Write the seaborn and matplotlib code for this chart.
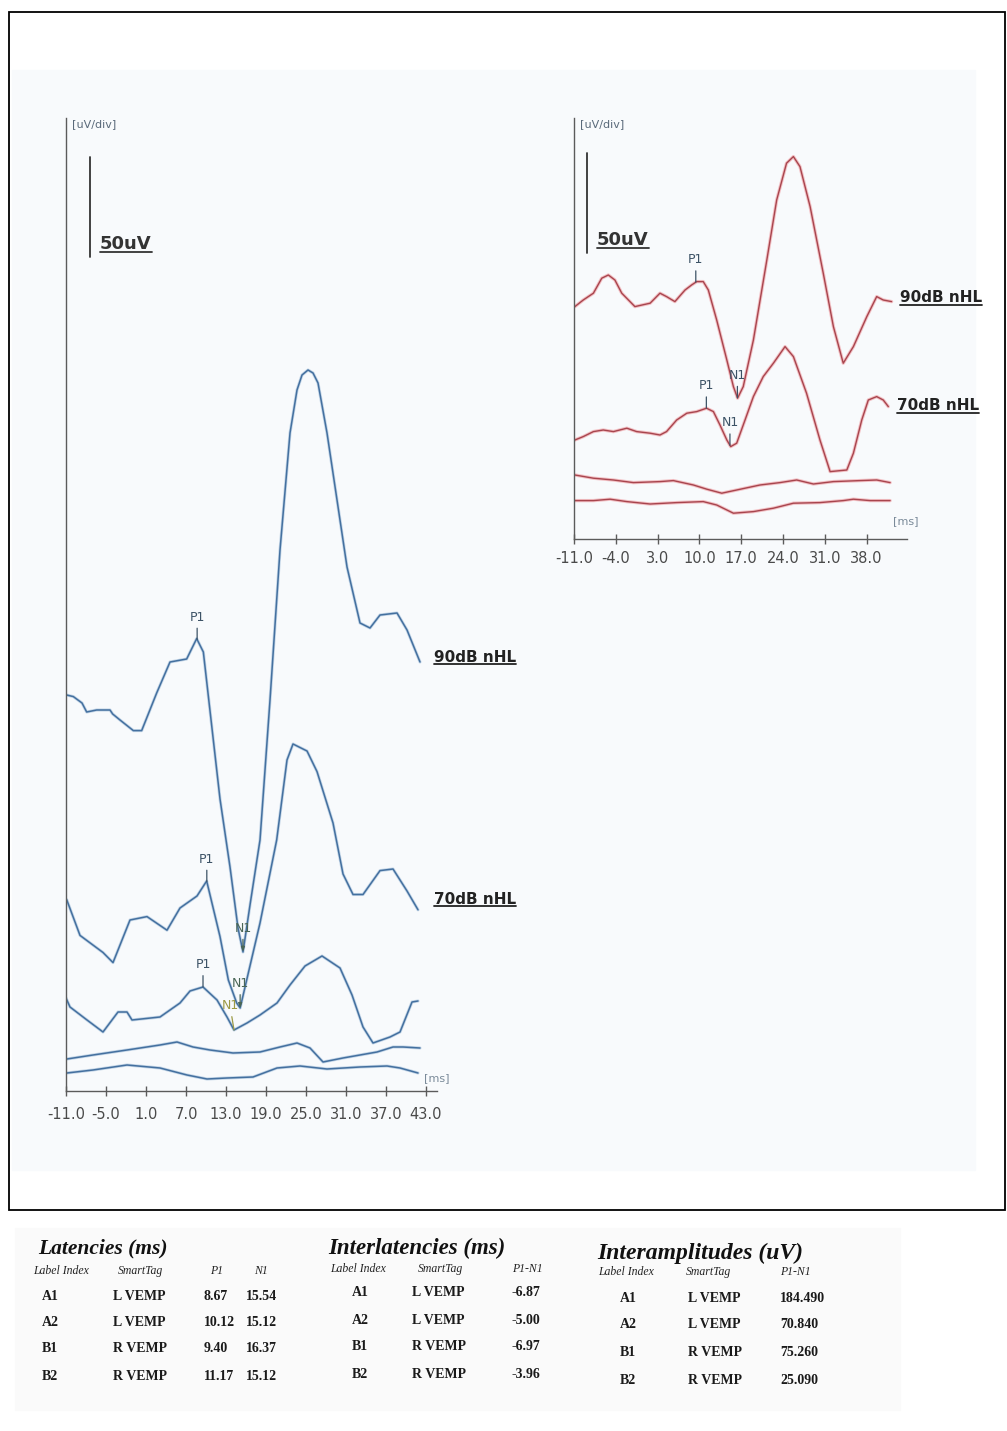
import matplotlib.pyplot as plt
from matplotlib.lines import Line2D
from matplotlib.patches import Rectangle
import numpy as np
import pandas as pd
import seaborn as sns

W, H = 1007, 1431

# Left recording (blue traces), latency in ms / amplitude in uV
l90_ms = [-10.9, -9.9, -8.6, -7.9, -6.4, -4.4, -4.0, -2.9, -0.9, 0.35, 2.6, 4.6, 7.1, 8.6, 9.6,
          12.1, 13.6, 14.8, 15.55, 16.6, 18.1, 19.6, 21.1, 22.6, 23.65, 24.4, 25.3, 26.05, 26.8, 28.15,
          29.65, 31.15, 33.1, 34.6, 36.1, 38.65, 40.15, 42.1]
l90_uv = [198, 197.2, 194, 189.5, 190.5, 190.5, 188.5, 185.5, 180.2, 180.2, 199, 214.5, 216, 226.2, 219.5,
          146, 112, 81.5, 69.5, 93, 125.5, 195.5, 270.5, 329, 350.5, 358, 360.5, 359, 354, 329,
          295.5, 262, 234, 231.5, 238, 239, 230.5, 214.5]

l70_ms = [-10.9, -8.9, -5.45, -3.95, -1.4, 1.15, 4.15, 6.1, 8.65, 10.1, 12.1, 13.35, 14.6, 15.12,
          18.1, 20.6, 22.15, 23.05, 25.15, 26.65, 29.05, 30.55, 32.05, 33.55, 36.1, 38.05, 40.15, 41.8]
l70_uv = [95.7, 77.8, 69.25, 64.2, 85.5, 87.2, 80.4, 91.5, 97.5, 105, 77.2, 55.5, 44, 41.5,
          84, 125.5, 165.5, 173.5, 170, 159.7, 134, 108.5, 98.25, 98.25, 110.2, 111, 100, 90.6]

l3_ms = [-11, -10.4, -7.85, -5.45, -3.2, -1.85, -1.1, 3.1, 6.1, 7.6, 9.55, 11.65, 13.15, 14.2, 16.15,
         18.1, 20.65, 22.6, 24.85, 27.4, 30.1, 31.9, 33.55, 35.05, 37.6, 39.1, 40.3, 40.9, 41.8]
l3_uv = [46.5, 42, 35.5, 29.5, 39.5, 39.5, 35.5, 37, 44, 50, 52, 45.5, 37, 30.5, 34,
         38, 44, 53, 62.5, 67.5, 61.5, 48, 32, 24, 27, 29.5, 39.5, 44.5, 45]

l4_ms = [-10.85, -6.95, -1.85, 3.1, 5.65, 8.05, 10.6, 14.05, 18.1, 21.1, 23.65, 25.6, 27.55, 30.55,
         35.65, 38.05, 39.55, 42.1]
l4_uv = [16, 18, 20.5, 23, 24.5, 22, 20.5, 19, 19.5, 22, 24, 21.5, 14.5, 16.5, 19.5, 22, 22, 21.5]

l5_ms = [-10.85, -6.95, -1.85, 3.1, 7.15, 10.15, 13.15, 17.05, 20.65, 24.1, 28.15, 33.1, 37.15, 39.1, 41.8]
l5_uv = [9, 10.5, 13, 11.5, 8, 6, 6.5, 7, 11.5, 12.5, 11, 12, 12.5, 11.5, 9]

# Right recording (red traces)
r90_ms = [-10.85, -9.45, -7.75, -6.35, -5.25, -4.15, -3.0, -0.8, 1.75, 3.4, 4.5, 5.9, 7.6, 8.7, 9.55,
          10.65, 11.5, 12.9, 14.6, 15.7, 16.4, 17.35, 19.05, 21.3, 22.95, 24.6, 25.75, 26.85, 28.55,
          30.75, 32.45, 34.1, 35.8, 38.05, 39.7, 40.8, 42.2]
r90_uv = [116.2, 119.5, 122.9, 130.4, 132, 129.5, 122.9, 116.2, 117.9, 122.9, 121.2, 118.7, 124.5, 127, 128.7,
          128.7, 124.5, 109.5, 89.5, 76.2, 70.4, 76.2, 99.5, 139.5, 169.5, 187.9, 191.2, 186.2, 166.2,
          132.9, 106.2, 87.9, 96.2, 111.2, 121.2, 119.5, 118.7]

r70_ms = [-10.85, -9.45, -7.75, -6.1, -4.4, -2.15, -0.5, 1.75, 3.4, 4.5, 6.2, 7.9, 9.55, 11.2, 12.35,
          13.45, 14.6, 15.25, 16.25, 17.65, 19.05, 20.7, 22.4, 24.35, 25.75, 27.95, 30.2, 31.9, 34.7,
          35.8, 37.2, 38.3, 39.7, 40.8, 41.65]
r70_uv = [49.5, 51.2, 53.7, 54.5, 53.7, 55.4, 53.7, 52.9, 52, 53.7, 59.5, 62.9, 63.7, 65.4, 63.7,
          57, 49.5, 46.2, 47.9, 59.5, 71.2, 81.2, 87.9, 96.2, 91.2, 72.9, 49.5, 33.7, 34.5,
          42.9, 59.5, 69.5, 71.2, 69.5, 66.2]

r3_ms = [-10.85, -7.75, -4.4, -1.05, 3.4, 5.65, 9.0, 11.25, 13.75, 16.25, 20.15, 23.5, 26.3, 29.1,
         32.45, 36.9, 39.7, 41.95]
r3_uv = [32, 30.4, 29.5, 28.2, 28.7, 29.2, 27, 24.9, 22.9, 24.5, 27, 28.2, 29.5, 27.5, 28.7, 29.2, 29.5, 28.2]

r4_ms = [-10.85, -7.75, -4.95, -2.15, 1.75, 6.2, 10.65, 12.9, 15.7, 19.05, 22.4, 25.75, 30.2, 34.1,
         35.8, 38.6, 41.95]
r4_uv = [19.2, 19.2, 19.9, 18.7, 17.5, 18.2, 18.7, 17, 12.9, 13.7, 15.4, 17.9, 18.2, 19.2, 19.9, 19.2, 19.2]

# Result tables
label_index = ['A1', 'A2', 'B1', 'B2']
smart_tag = ['L VEMP', 'L VEMP', 'R VEMP', 'R VEMP']
p1_lat = [8.67, 10.12, 9.40, 11.17]
n1_lat = [15.54, 15.12, 16.37, 15.12]
p1n1_lat = [-6.87, -5.00, -6.97, -3.96]
p1n1_amp = [184.490, 70.840, 75.260, 25.090]

# the lowest marked left trace is not listed in the tables
l3_p1, l3_n1 = 9.55, 14.2

left_ticks = [-11, -5, 1, 7, 13, 19, 25, 31, 37, 43]
right_ticks = [-11, -4, 3, 10, 17, 24, 31, 38]
SCALE_UV = 50


def fx(x):
    return x / W


def fy(y):
    return 1 - y / H


def to_long(traces):
    parts = [pd.DataFrame({'ms': m, 'uV': v, 'trace': k}) for k, (m, v) in traces.items()]
    return pd.concat(parts, ignore_index=True)


sns.set_theme(style='white')
plt.rcParams['font.family'] = ['DejaVu Sans']

fig = plt.figure(figsize=(W / 100, H / 100), dpi=100)
fig.patch.set_facecolor('white')

# scan background + frame
fig.add_artist(Rectangle((fx(12), fy(1170)), fx(963), 1100 / H, color='#f8fafc', zorder=-5))
fig.add_artist(Rectangle((fx(15), fy(1410)), fx(885), 182 / H, color='#fafafa', zorder=-5))
fig.add_artist(Rectangle((fx(9), fy(1210)), fx(996), 1198 / H, fill=False, ec='black', lw=1.3))

ax_l = fig.add_axes([fx(66), fy(1091), 371 / W, 973 / H])
ax_r = fig.add_axes([fx(574), fy(539), 333 / W, 421 / H])

df_l = to_long({'90': (l90_ms, l90_uv), '70': (l70_ms, l70_uv), 'c': (l3_ms, l3_uv),
                'd': (l4_ms, l4_uv), 'e': (l5_ms, l5_uv)})
df_r = to_long({'90': (r90_ms, r90_uv), '70': (r70_ms, r70_uv), 'c': (r3_ms, r3_uv), 'd': (r4_ms, r4_uv)})

for col, lw in [('#c3d5e7', 2.2), ('#44709f', 1.1)]:
    sns.lineplot(data=df_l, x='ms', y='uV', units='trace', estimator=None, color=col, lw=lw,
                 ax=ax_l, legend=False)
for col, lw in [('#f2c0c4', 2.4), ('#a8454e', 1.0)]:
    sns.lineplot(data=df_r, x='ms', y='uV', units='trace', estimator=None, color=col, lw=lw,
                 ax=ax_r, legend=False)


def style_axis(ax, xlim, ylim, ticks, pad):
    ax.set_xlim(xlim)
    ax.set_ylim(ylim)
    ax.patch.set_visible(False)
    for s in ['top', 'right']:
        ax.spines[s].set_visible(False)
    for s in ['left', 'bottom']:
        ax.spines[s].set_color('#5b5b5b')
        ax.spines[s].set_linewidth(1.0)
    ax.set_xticks(ticks)
    ax.set_xticklabels([f'{t:.1f}' for t in ticks])
    ax.set_yticks([])
    ax.set_xlabel('')
    ax.set_ylabel('')
    ax.tick_params(axis='x', bottom=True, direction='inout', length=7, width=1, color='#5b5b5b',
                   pad=pad, labelsize=10.5, labelcolor='#4a4a4a')


style_axis(ax_l, (-11, -11 + 371 / 6.667), (0, 486.5), left_ticks, 8)
style_axis(ax_r, (-11, -11 + 333 / 5.97), (0, 210.5), right_ticks, 5)

# 50uV calibration bars
ax_l.plot([-7.4, -7.4], [417, 417 + SCALE_UV], color='#333333', lw=1.3)
ax_r.plot([-8.82, -8.82], [143, 143 + SCALE_UV], color='#333333', lw=1.3)


def mark(ax, ms, tm, tv, text, off, color='#3d5366', dx=0, head=False):
    y = np.interp(ms, tm, tv)
    style = '-|>,head_length=0.3,head_width=0.12' if head else '-'
    ax.annotate(text, xy=(ms, y), xytext=(dx, off), textcoords='offset pixels', ha='center',
                va='bottom', fontsize=9, color=color,
                arrowprops=dict(arrowstyle=style, color=color, lw=0.9, shrinkA=1, shrinkB=0))


mark(ax_l, p1_lat[0], l90_ms, l90_uv, 'P1', 16)
mark(ax_l, n1_lat[0], l90_ms, l90_uv, 'N1', 17, color='#4a6657', head=True)
mark(ax_l, p1_lat[1], l70_ms, l70_uv, 'P1', 16)
mark(ax_l, n1_lat[1], l70_ms, l70_uv, 'N1', 18, color='#4a6657', head=True)
mark(ax_l, l3_p1, l3_ms, l3_uv, 'P1', 16)
mark(ax_l, l3_n1, l3_ms, l3_uv, 'N1', 18, color='#9c9a45', dx=-4)
mark(ax_r, p1_lat[2], r90_ms, r90_uv, 'P1', 16)
mark(ax_r, n1_lat[2], r90_ms, r90_uv, 'N1', 16)
mark(ax_r, p1_lat[3], r70_ms, r70_uv, 'P1', 16)
mark(ax_r, n1_lat[3], r70_ms, r70_uv, 'N1', 16)

# axis captions
for x in (72, 580):
    fig.text(fx(x), fy(124), '[uV/div]', fontsize=8, color='#5a6a7a', va='center')
fig.text(fx(424), fy(1078), '[ms]', fontsize=8, color='#7a8a99', va='center')
fig.text(fx(893), fy(521), '[ms]', fontsize=8, color='#7a8a99', va='center')

underlined = []
for x, y in [(100, 249), (597, 245)]:
    underlined.append(fig.text(fx(x), fy(y), '50uV', fontsize=13, fontweight='bold', color='#333333',
                               va='baseline'))
for x, y, s in [(434, 662, '90dB nHL'), (434, 904, '70dB nHL'), (900, 302, '90dB nHL'),
                (897, 410, '70dB nHL')]:
    underlined.append(fig.text(fx(x), fy(y), s, fontsize=11, fontweight='bold', color='#222222',
                               va='baseline'))

# tables
serif = ['Liberation Serif', 'DejaVu Serif']
tables = [
    ('Latencies (ms)', 38, 1248, 15.5, [('Label Index', 33), ('SmartTag', 118), ('P1', 210), ('N1', 254)],
     1271, [1296, 1322, 1348, 1376], 50, 113, [(p1_lat, 204, '{:.2f}'), (n1_lat, 246, '{:.2f}')]),
    ('Interlatencies (ms)', 328, 1248, 16.5, [('Label Index', 330), ('SmartTag', 418), ('P1-N1', 512)],
     1269, [1293, 1321, 1347, 1375], 360, 412, [(p1n1_lat, 512, '{:.2f}')]),
    ('Interamplitudes (uV)', 597, 1253, 17, [('Label Index', 598), ('SmartTag', 686), ('P1-N1', 780)],
     1272, [1298, 1325, 1352, 1381], 628, 688, [(p1n1_amp, 780, '{:.3f}')]),
]
for title, tx, ty, tsize, heads, hy, rows_y, idx_x, tag_x, cols in tables:
    fig.text(fx(tx), fy(ty), title, family=serif, fontsize=tsize, fontweight='bold', fontstyle='italic',
             color='#111111', va='center')
    for s, x in heads:
        fig.text(fx(x), fy(hy), s, family=serif, fontsize=8.5, fontstyle='italic', color='#222222',
                 va='center')
    for i, y in enumerate(rows_y):
        fig.text(fx(idx_x), fy(y), label_index[i], family=serif, fontsize=10, fontweight='bold',
                 color='#1a1a1a', va='center', ha='center')
        fig.text(fx(tag_x), fy(y), smart_tag[i], family=serif, fontsize=10, fontweight='bold',
                 color='#1a1a1a', va='center')
        for vals, x, f in cols:
            fig.text(fx(x), fy(y), f.format(vals[i]), family=serif, fontsize=10, fontweight='bold',
                     color='#1a1a1a', va='center')

# underline the bold labels
fig.canvas.draw()
for t in underlined:
    bb = t.get_window_extent()
    y = t.get_position()[1] - 2.5 / H
    fig.add_artist(Line2D([bb.x0 / W, bb.x1 / W], [y, y], color=t.get_color(), lw=1.3))

fig.savefig('out.png', dpi=100)
